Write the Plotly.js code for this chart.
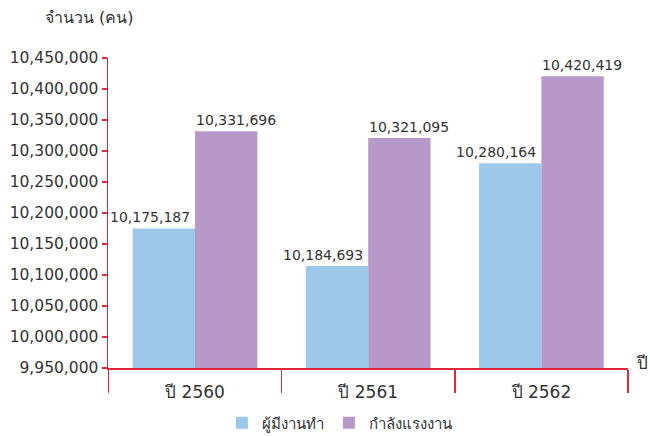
<!DOCTYPE html>
<html><head><meta charset="utf-8">
<script src="https://cdn.plot.ly/plotly-3.0.1.min.js"></script>
<style>html,body{margin:0;padding:0;background:#fff}#c{width:650px;height:436px}</style>
</head><body><div id="c"></div>
<script>
const categories = ['ปี 2560', 'ปี 2561', 'ปี 2562'];
// printed values
const employedLabels = [10175187, 10184693, 10280164];
const laborForceLabels = [10331696, 10321095, 10420419];
// bar heights as drawn in the reference (the 2561 employed bar is drawn lower than its label)
const employedBars = [10175187, 10114500, 10280164];
const laborForceBars = [10331696, 10321095, 10420419];
const seriesNames = ['ผู้มีงานทำ', 'กำลังแรงงาน'];
const yTicks = [9950000, 10000000, 10050000, 10100000, 10150000, 10200000, 10250000, 10300000, 10350000, 10400000, 10450000];

const fmt = v => v.toLocaleString('en-US');
const red = '#E2263D';
const txtFont = {family: 'DejaVu Sans, Verdana, sans-serif', size: 14, color: '#333'};

const traces = [
  {type: 'bar', name: seriesNames[0], x: categories, y: employedBars, marker: {color: '#9EC8E9'}, hoverinfo: 'none'},
  {type: 'bar', name: seriesNames[1], x: categories, y: laborForceBars, marker: {color: '#B699C8'}, hoverinfo: 'none'}
];

const annotations = [];
categories.forEach((c, i) => {
  annotations.push({x: c, y: employedBars[i], xref: 'x', yref: 'y', text: fmt(employedLabels[i]),
    showarrow: false, xanchor: 'center', yanchor: 'bottom', xshift: -45, yshift: 1, font: txtFont});
  annotations.push({x: c, y: laborForceBars[i], xref: 'x', yref: 'y', text: fmt(laborForceLabels[i]),
    showarrow: false, xanchor: 'center', yanchor: 'bottom', xshift: 41, yshift: 1, font: txtFont});
});
annotations.push(
  {text: 'จำนวน (คน)', xref: 'paper', yref: 'paper', x: -0.125, y: 1.13, xanchor: 'left', yanchor: 'middle',
   showarrow: false, font: {family: 'Tahoma, DejaVu Sans, sans-serif', size: 16, color: '#333'}},
  {text: 'ปี', xref: 'paper', yref: 'paper', x: 1.012, y: 0.015, xanchor: 'left', yanchor: 'middle',
   showarrow: false, font: {family: 'Tahoma, DejaVu Sans, sans-serif', size: 17, color: '#333'}}
);

const layout = {
  width: 650, height: 436,
  margin: {l: 108, r: 22, t: 58, b: 68, autoexpand: false},
  paper_bgcolor: '#fff', plot_bgcolor: '#fff',
  barmode: 'group', bargap: 0.28, bargroupgap: 0,
  font: {family: 'DejaVu Sans, sans-serif', color: '#333'},
  xaxis: {
    type: 'category', showline: true, linecolor: red, linewidth: 1.5,
    ticks: 'outside', tickson: 'boundaries', ticklen: 23, tickcolor: red, tickwidth: 1.5,
    ticklabelstandoff: 8,
    tickfont: {family: 'Tahoma, DejaVu Sans, sans-serif', size: 17, color: '#333'},
    showgrid: false, zeroline: false
  },
  yaxis: {
    range: [9950000, 10450000], tickvals: yTicks, ticktext: yTicks.map(fmt),
    showline: true, linecolor: red, linewidth: 1.5,
    ticks: 'outside', ticklen: 5, tickcolor: red, tickwidth: 1.5,
    tickfont: {family: 'DejaVu Sans, Verdana, sans-serif', size: 15.5, color: '#333'},
    showgrid: false, zeroline: false
  },
  legend: {
    orientation: 'h', x: 0.445, xanchor: 'center', xref: 'paper', yref: 'container', y: 0.03, yanchor: 'middle',
    font: {family: 'Tahoma, DejaVu Sans, sans-serif', size: 15, color: '#333'},
    itemwidth: 20, traceorder: 'normal', tracegroupgap: 0, borderwidth: 0
  },
  annotations: annotations,
  showlegend: true
};

Plotly.newPlot('c', traces, layout, {displayModeBar: false, staticPlot: true});
</script>
</body></html>
